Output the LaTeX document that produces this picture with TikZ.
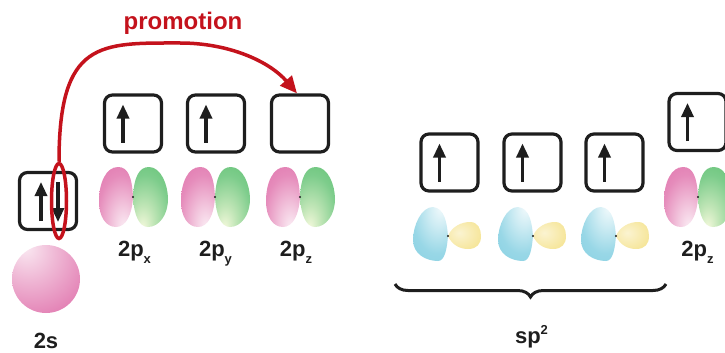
\documentclass[tikz,border=0pt]{standalone}
\usepackage{fontspec}
\setmainfont{Liberation Sans}
\usetikzlibrary{arrows.meta, positioning, calc, shapes.geometric, decorations.pathreplacing}

\definecolor{orbpink}{HTML}{DF6FAA}
\definecolor{orbgreen}{HTML}{5DC06F}
\definecolor{greenhl}{HTML}{F4F9DC}
\definecolor{orbblue}{HTML}{86D0E2}
\definecolor{orbyellow}{HTML}{F3DE7C}
\definecolor{promred}{HTML}{C4121C}
\definecolor{inkgray}{HTML}{1E1E1E}

% lobe shadings (highlight sits off-centre)
\pgfdeclareradialshading{pinklobe}{\pgfpoint{12bp}{-26bp}}{color(0bp)=(orbpink!12!white); color(15bp)=(orbpink!40!white); color(35bp)=(orbpink!80!white); color(55bp)=(orbpink); color(100bp)=(orbpink)}
\pgfdeclareradialshading{greenlobe}{\pgfpoint{-12bp}{-26bp}}{color(0bp)=(greenhl); color(15bp)=(orbgreen!35!greenhl); color(35bp)=(orbgreen!80!white); color(55bp)=(orbgreen); color(100bp)=(orbgreen)}
\pgfdeclareradialshading{bluelobe}{\pgfpoint{15bp}{26bp}}{color(0bp)=(orbblue!10!white); color(15bp)=(orbblue!40!white); color(35bp)=(orbblue!85!white); color(55bp)=(orbblue); color(100bp)=(orbblue)}
\pgfdeclareradialshading{yellowlobe}{\pgfpoint{-8bp}{5bp}}{color(0bp)=(orbyellow!35!white); color(30bp)=(orbyellow!75!white); color(50bp)=(orbyellow); color(100bp)=(orbyellow)}
\pgfdeclareradialshading{pinkball}{\pgfpoint{-16bp}{24bp}}{color(0bp)=(orbpink!15!white); color(20bp)=(orbpink!50!white); color(45bp)=(orbpink!92!white); color(70bp)=(orbpink!90!black); color(100bp)=(orbpink!90!black)}

\newcommand{\orbsub}[1]{\raisebox{-7pt}{\fontsize{13}{13}\selectfont #1}}
\newcommand{\orbsup}[1]{\raisebox{9pt}{\fontsize{13}{13}\selectfont #1}}

\tikzset{
  box/.style={draw=inkgray, line width=3.2pt, rounded corners=8pt, minimum size=57pt, inner sep=0pt},
  spin/.style={-{Triangle[length=14pt, width=12pt]}, line width=3.2pt, inkgray},
  orblabel/.style={font=\fontsize{22}{25}\selectfont\bfseries, text=inkgray, anchor=base},
  spbrace/.style={decorate, decoration={brace, mirror, amplitude=13pt}, line width=3pt, inkgray},
  % p orbital: pink and green lobes around the nucleus dot
  porb/.pic={
    \shade[shading=pinklobe] (0,0) .. controls (-1,-20) and (-5,-30) .. (-15,-30)
      .. controls (-27,-30) and (-34,-14) .. (-34,4)
      .. controls (-34,20) and (-27,30) .. (-17,30)
      .. controls (-7,30) and (-1,18) .. (0,0);
    \shade[shading=greenlobe] (0,0) .. controls (1,-20) and (6,-30) .. (16,-30)
      .. controls (28,-30) and (35,-12) .. (35,2)
      .. controls (35,18) and (26,30) .. (15,30)
      .. controls (6,30) and (1,18) .. (0,0);
    \fill[inkgray] (0,0) circle (1.2pt);
  },
  % sp2 hybrid: big blue lobe, small yellow lobe
  sporb/.pic={
    \shade[shading=bluelobe] (0,0) .. controls (-1,-12) and (-3,-28) .. (-15,-29)
      .. controls (-27,-29) and (-35,-10) .. (-35,4)
      .. controls (-35,18) and (-22,25) .. (-10,25)
      .. controls (-3,25) and (-1,12) .. (0,0);
    \shade[shading=yellowlobe] (0,0) .. controls (4,-10) and (14,-14) .. (22,-14)
      .. controls (30,-14) and (33,-7) .. (33,0)
      .. controls (33,8) and (29,13) .. (20,13)
      .. controls (12,13) and (4,9) .. (0,0);
    \fill[inkgray] (0,0) circle (1.2pt);
  }
}

\begin{document}
\begin{tikzpicture}[x=1pt, y=-1pt]

\useasboundingbox (0,0) rectangle (725,353);
\clip (0,0) rectangle (725,353);

% --- Ground state: 2s and 2p ---

\node[box] (box2s) at (48,201) {};
\draw[spin] ($(box2s.center)+(-7,20)$) -- ++(0,-39);
\draw[spin] ($(box2s.center)+(10,-19)$) -- ++(0,40);

\shade[shading=pinkball] (46,279) circle (34pt);
\node[orblabel] (lab2s) at (46,348) {2s};

\node[box] (boxpx) at (133,123.5) {};
\node[box] (boxpy) at (216,123.5) {};
\node[box] (boxpz) at (300,123.5) {};
\draw[spin] ($(boxpx.center)+(-10,19)$) -- ++(0,-38);
\draw[spin] ($(boxpy.center)+(-10,19)$) -- ++(0,-38);

\pic at (133,197) {porb};
\pic at (215,197) {porb};
\pic at (300,197) {porb};
\node[orblabel] (labpx) at (134.5,256) {2p\orbsub{x}};
\node[orblabel] (labpy) at (215.5,256) {2p\orbsub{y}};
\node[orblabel] (labpz) at (296,256) {2p\orbsub{z}};

% --- Promotion of one 2s electron ---

\node[draw=promred, ellipse, line width=3.5pt, minimum width=15pt, minimum height=75pt, inner sep=0pt] (pair) at (59,201) {};
\node[font=\fontsize{24}{28}\selectfont\bfseries, text=promred] (promolabel) at (183,23) {promotion};
\coordinate (arctop) at (180,43);
\draw[promred, line width=3.5pt, -{Triangle[length=17pt, width=15pt]}]
  (pair.north) .. controls (59,40) and (100,43) .. (arctop)
  .. controls (230,43) and (270,62) .. ([xshift=-3pt]boxpz.north);

% --- Hybridised state: three sp2 and one 2p ---

\node[box] (boxsa) at (449.5,162.5) {};
\node[box] (boxsb) at (532.5,162.5) {};
\node[box] (boxsc) at (614.5,162.5) {};
\node[box] (boxpr) at (697.5,122) {};
\draw[spin] ($(boxsa.center)+(-10,19)$) -- ++(0,-38);
\draw[spin] ($(boxsb.center)+(-10,19)$) -- ++(0,-38);
\draw[spin] ($(boxsc.center)+(-10,19)$) -- ++(0,-38);
\draw[spin] ($(boxpr.center)+(-10,19)$) -- ++(0,-38);

\pic at (448,236) {sporb};
\pic at (533,236) {sporb};
\pic at (616,236) {sporb};
\pic at (698,197) {porb};
\node[orblabel] (labpr) at (697.5,256) {2p\orbsub{z}};

\coordinate (braceL) at (395,284);
\coordinate (braceR) at (666,284);
\draw[spbrace] (braceL) -- (braceR);
\node[orblabel] (labsp) at (531.5,343) {sp\orbsup{2}};

\end{tikzpicture}
\end{document}
